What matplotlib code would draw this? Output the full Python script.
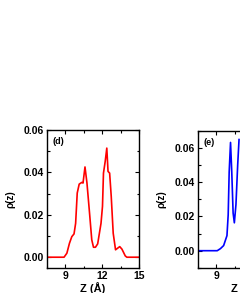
import numpy as np
import matplotlib
matplotlib.use("Agg")
import matplotlib.pyplot as plt
from matplotlib.ticker import MultipleLocator

plt.rcParams['font.family'] = ['Liberation Sans', 'DejaVu Sans']

# panel (d): red density profile
zd = [7.5, 8.9, 9.13, 9.34, 9.53, 9.71, 9.84, 9.97, 10.13, 10.34, 10.44, 10.6,
      10.76, 10.97, 11.15, 11.29, 11.45, 11.63, 11.9, 12.02, 12.1, 12.24, 12.37,
      12.47, 12.6, 12.73, 12.89, 13.08, 13.26, 13.42, 13.6, 13.87, 14.0, 15.0]
rho_d = [0.0, 0.0, 0.0019, 0.0066, 0.0097, 0.011, 0.016, 0.0303, 0.0345, 0.0353,
         0.035, 0.0426, 0.035, 0.0208, 0.0082, 0.0047, 0.0047, 0.0063, 0.016,
         0.024, 0.0397, 0.0452, 0.0515, 0.0405, 0.0397, 0.0287, 0.0113, 0.0035,
         0.0043, 0.005, 0.0038, 0.0006, 0.0, 0.0]

# panel (e): blue density profile (only the visible part)
ze = [7.5, 9.08, 9.34, 9.6, 9.87, 9.97, 10.05, 10.16, 10.26, 10.37, 10.47,
      10.6, 10.74, 10.85]
rho_e = [0.0, 0.0, 0.0012, 0.003, 0.0088, 0.021, 0.046, 0.0633, 0.046, 0.022,
         0.0163, 0.027, 0.05, 0.065]

fig = plt.figure(figsize=(2.40, 2.93), dpi=100)


def style(ax, ylo, yhi, tag):
    ax.set_xlim(7.5, 15)
    ax.set_ylim(ylo, yhi)
    ax.xaxis.set_major_locator(MultipleLocator(3))
    ax.xaxis.set_minor_locator(MultipleLocator(1.5))
    ax.yaxis.set_major_locator(MultipleLocator(0.02))
    ax.yaxis.set_minor_locator(MultipleLocator(0.01))
    ax.yaxis.set_major_formatter(matplotlib.ticker.FormatStrFormatter('%.2f'))
    ax.tick_params(which='both', direction='in', top=True, right=True,
                   width=0.8, labelsize=7.5, pad=2)
    ax.tick_params(which='major', length=3)
    ax.tick_params(which='minor', length=1.8)
    for lab in ax.get_xticklabels() + ax.get_yticklabels():
        lab.set_fontweight('bold')
    for s in ax.spines.values():
        s.set_linewidth(1.0)
    ax.set_xlabel('Z (Å)', fontsize=8, fontweight='bold', labelpad=1)
    ax.set_ylabel('ρ(z)', fontsize=7, fontweight='bold', labelpad=6)
    ax.text(0.06, 0.95, tag, transform=ax.transAxes, fontsize=6.5,
            fontweight='bold', va='top', ha='left')


ax1 = fig.add_axes([0.195, 0.086, 0.385, 0.470])
ax1.plot(zd, rho_d, color='#ff0000', lw=1.2)
style(ax1, -0.005, 0.06, '(d)')

ax2 = fig.add_axes([0.824, 0.086, 0.385, 0.467])
ax2.plot(ze, rho_e, color='#0000ff', lw=1.2)
style(ax2, -0.01, 0.07, '(e)')

fig.savefig('out.png', dpi=100)
